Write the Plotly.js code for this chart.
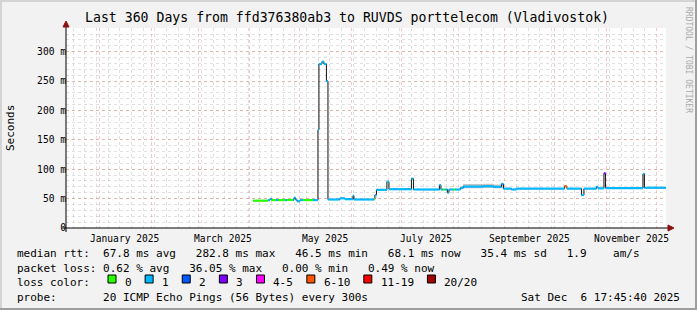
<!DOCTYPE html>
<html><head><meta charset="utf-8">
<script src="https://cdn.plot.ly/plotly-3.0.1.min.js"></script>
<style>html,body{margin:0;padding:0;background:#f2f2f2;}#chart{width:697px;height:310px;}</style>
</head><body><div id="chart"></div>
<script>
// ---- data (median rtt in ms, step values; loss bucket index) ----
const rangeStart = '2024-12-11 17:45:40';
const rangeEnd = '2025-12-06 17:45:40';
const times = ['2025-04-02 22:00','2025-04-11 22:00','2025-04-13 02:00','2025-04-14 00:00','2025-04-16 17:00','2025-04-18 00:00','2025-04-22 05:00','2025-04-23 07:00','2025-04-26 22:00','2025-04-27 12:00','2025-04-28 09:00','2025-04-29 07:00','2025-05-01 02:00','2025-05-02 22:00','2025-05-08 22:00','2025-05-11 22:00','2025-05-12 12:00','2025-05-14 07:00','2025-05-15 12:00','2025-05-17 00:00','2025-05-17 22:00','2025-05-25 02:00','2025-05-28 02:00','2025-06-01 22:00','2025-06-02 12:00','2025-06-14 12:00','2025-06-15 02:00','2025-06-16 00:00','2025-06-22 07:00','2025-06-23 12:00','2025-07-07 00:00','2025-07-08 05:00','2025-07-23 19:00','2025-07-24 17:00','2025-07-25 22:00','2025-07-27 02:00','2025-07-28 14:00','2025-07-29 12:00','2025-08-01 02:00','2025-08-02 07:00','2025-08-05 07:00','2025-08-07 02:00','2025-08-19 02:00','2025-08-25 00:00','2025-08-30 00:00','2025-08-31 05:00','2025-09-05 00:00','2025-09-07 19:00','2025-10-06 19:00','2025-10-08 07:00','2025-10-17 00:00','2025-10-18 12:00','2025-10-26 00:00','2025-10-26 22:00','2025-10-30 12:00','2025-10-31 10:00','2025-11-22 22:00','2025-11-23 19:00','2025-12-06 17:45'];
const medianMs = [46.5,47.5,49.5,47.5,47.5,47.5,47.5,47.8,48.0,51.5,48.5,45.5,47.5,47.5,47.5,167,279,283,279,250,48.5,50.5,49,55,48.5,49,56,65,79,66,84,65.5,73,65.5,65.5,65.5,60,65.5,65.5,65.5,68,70.5,71,70,75,67,65.5,67,71,67,56,67,70,67.5,93,68,92,68.5,68.1];
const lossBucket = [0,1,1,0,1,0,1,0,1,1,1,1,1,0,1,1,1,1,1,1,1,1,1,1,1,0,1,1,1,1,1,1,1,1,0,1,1,1,0,1,1,1,1,1,1,1,1,1,5,1,1,1,1,1,3,1,1,1,1];
const smokeTimes = ['2025-08-05 07:00','2025-08-07 02:00','2025-08-19 02:00','2025-08-25 00:00','2025-08-31 05:00'];
const smokeLo = [66,67.5,68,67.5,67.5];
const smokeHi = [71,75,75.5,74,74];
const lossLabels = ['0','1','2','3','4-5','6-10','11-19','20/20'];
const lossColors = ['#26ff00','#00b8ff','#0059ff','#7e00ff','#ff00ff','#ff5500','#ff0000','#a10000'];
const monthTickDates = ['2025-01-16','2025-03-16','2025-05-16','2025-07-16','2025-09-16','2025-11-16'];
const monthTickText = ['January 2025','March 2025','May 2025','July 2025','September 2025','November 2025'];
const yTickVals = [0,50,100,150,200,250,300];
const yTickText = ['0','50 m','100 m','150 m','200 m','250 m','300 m'];
const titleText = 'Last 360 Days from ffd376380ab3 to RUVDS porttelecom (Vladivostok)';
const legendRtt = 'median rtt:  67.8 ms avg   282.8 ms max   46.5 ms min   68.1 ms now   35.4 ms sd   1.9    am/s';
const legendLoss = 'packet loss: 0.62 % avg   36.05 % max   0.00 % min   0.49 % now';
const legendProbe = 'probe:       20 ICMP Echo Pings (56 Bytes) every 300s';
const stampText = 'Sat Dec  6 17:45:40 2025';

// ---- geometry ----
const W=697,H=310,L=66,PW=600,T=28,PH=200;
const R=W-L-PW,B=H-T-PH;
const px=x=>(x-L)/PW, py=y=>(T+PH-y)/PH;
const MONO='DejaVu Sans Mono, monospace';
const nb=s=>s.replace(/ /g,'\u00a0');

const traces=[];
// smoke
traces.push({x:smokeTimes,y:smokeLo,mode:'lines',line:{width:0,shape:'hv'},hoverinfo:'skip',showlegend:false});
traces.push({x:smokeTimes,y:smokeHi,mode:'lines',line:{width:0,shape:'hv'},fill:'tonexty',fillcolor:'rgba(150,150,150,0.55)',hoverinfo:'skip',showlegend:false});
// black connector
traces.push({x:times,y:medianMs,mode:'lines',line:{color:'#111',width:1,shape:'hv'},hoverinfo:'skip',showlegend:false});
// coloured segments
lossColors.forEach((c,b)=>{
  const xs=[],ys=[];
  for(let i=0;i<times.length-1;i++){
    if(lossBucket[i]===b){xs.push(times[i],times[i+1],null);ys.push(medianMs[i],medianMs[i],null);}
  }
  if(xs.length) traces.push({x:xs,y:ys,mode:'lines',line:{color:c,width:2.2},connectgaps:false,hoverinfo:'skip',showlegend:false});
});

const shapes=[], ann=[];
// borders
shapes.push({type:'rect',xref:'paper',yref:'paper',x0:px(0),x1:px(W),y0:py(0),y1:py(2),fillcolor:'#d4d4d4',line:{width:0},layer:'above'});
shapes.push({type:'rect',xref:'paper',yref:'paper',x0:px(0),x1:px(2),y0:py(0),y1:py(H),fillcolor:'#d4d4d4',line:{width:0},layer:'above'});
shapes.push({type:'rect',xref:'paper',yref:'paper',x0:px(W-2),x1:px(W),y0:py(0),y1:py(H),fillcolor:'#9e9e9e',line:{width:0},layer:'above'});
shapes.push({type:'rect',xref:'paper',yref:'paper',x0:px(0),x1:px(W),y0:py(H-2),y1:py(H),fillcolor:'#9e9e9e',line:{width:0},layer:'above'});
// axes
shapes.push({type:'line',xref:'paper',yref:'paper',x0:px(62),x1:px(669),y0:0,y1:0,line:{color:'#000',width:1},layer:'above'});
shapes.push({type:'line',xref:'paper',yref:'paper',x0:0,x1:0,y0:py(232),y1:py(25),line:{color:'#000',width:1},layer:'above'});
shapes.push({type:'path',xref:'paper',yref:'paper',path:`M ${px(668)} ${py(225)} L ${px(674)} ${py(228)} L ${px(668)} ${py(231)} Z`,fillcolor:'#8b1010',line:{color:'#8b1010',width:1},layer:'above'});
shapes.push({type:'path',xref:'paper',yref:'paper',path:`M ${px(63)} ${py(27)} L ${px(66)} ${py(21)} L ${px(69)} ${py(27)} Z`,fillcolor:'#8b1010',line:{color:'#8b1010',width:1},layer:'above'});

// text
ann.push({text:nb(titleText),xref:'paper',yref:'paper',x:px(347),y:py(18),xanchor:'center',yanchor:'middle',showarrow:false,font:{family:MONO,size:13.2,color:'#000'}});
ann.push({text:'Seconds',xref:'paper',yref:'paper',x:px(10),y:py(128),textangle:-90,xanchor:'center',yanchor:'middle',showarrow:false,font:{family:MONO,size:11,color:'#000'}});
ann.push({text:nb('RRDTOOL / TOBI OETIKER'),xref:'paper',yref:'paper',x:px(689),y:py(60),textangle:90,xanchor:'center',yanchor:'middle',showarrow:false,font:{family:MONO,size:8,color:'#aaaaaa'}});
monthTickDates.forEach((d,i)=>ann.push({text:nb(monthTickText[i]),xref:'x',yref:'paper',x:d,y:py(238),xanchor:'center',yanchor:'middle',showarrow:false,font:{family:MONO,size:9.6,color:'#000'}}));
const legRow=(t,y)=>ann.push({text:nb(t),xref:'paper',yref:'paper',x:px(15),y:py(y),xanchor:'left',yanchor:'middle',showarrow:false,font:{family:MONO,size:11,color:'#000'}});
legRow(legendRtt,254); legRow(legendLoss,268); legRow('loss color:',282); legRow(legendProbe,297);
ann.push({text:nb(stampText),xref:'paper',yref:'paper',x:px(682),y:py(297),xanchor:'right',yanchor:'middle',showarrow:false,font:{family:MONO,size:11,color:'#000'}});
// loss colour boxes
let bx=108; const CW=6.62;
lossLabels.forEach((lab,i)=>{
  shapes.push({type:'rect',xref:'paper',yref:'paper',x0:px(bx),x1:px(bx+8),y0:py(283),y1:py(275),fillcolor:lossColors[i],line:{color:'#000',width:1},layer:'above'});
  ann.push({text:nb(lab),xref:'paper',yref:'paper',x:px(bx+15),y:py(282),xanchor:'left',yanchor:'middle',showarrow:false,font:{family:MONO,size:11,color:'#000'}});
  bx += 16 + lab.length*CW + 14.5;
});

const layout={
  width:W,height:H,margin:{l:L,r:R,t:T,b:B,pad:0},
  paper_bgcolor:'#f2f2f2',plot_bgcolor:'#ffffff',showlegend:false,
  xaxis:{type:'date',range:[rangeStart,rangeEnd],showgrid:true,dtick:'M1',tick0:'2025-01-01',gridcolor:'rgba(230,110,110,0.38)',griddash:'dot',gridwidth:1,
    showticklabels:false,ticks:'',zeroline:false,showline:false,fixedrange:true,
    minor:{dtick:7*86400000,tick0:'2024-12-16',showgrid:true,gridcolor:'rgba(160,160,160,0.32)',griddash:'dot',gridwidth:1}},
  yaxis:{range:[0,340.3],tickmode:'array',tickvals:yTickVals,ticktext:yTickText,showgrid:true,gridcolor:'rgba(230,110,110,0.38)',griddash:'dot',gridwidth:1,
    ticks:'',ticklabelstandoff:-1,zeroline:false,showline:false,tickfont:{family:MONO,size:9.6,color:'#000'},fixedrange:true,
    minor:{tickmode:'linear',tick0:0,dtick:10,showgrid:true,gridcolor:'rgba(160,160,160,0.32)',griddash:'dot',gridwidth:1}},
  shapes:shapes,annotations:ann
};
Plotly.newPlot('chart',traces,layout,{staticPlot:true,displayModeBar:false});
</script></body></html>
